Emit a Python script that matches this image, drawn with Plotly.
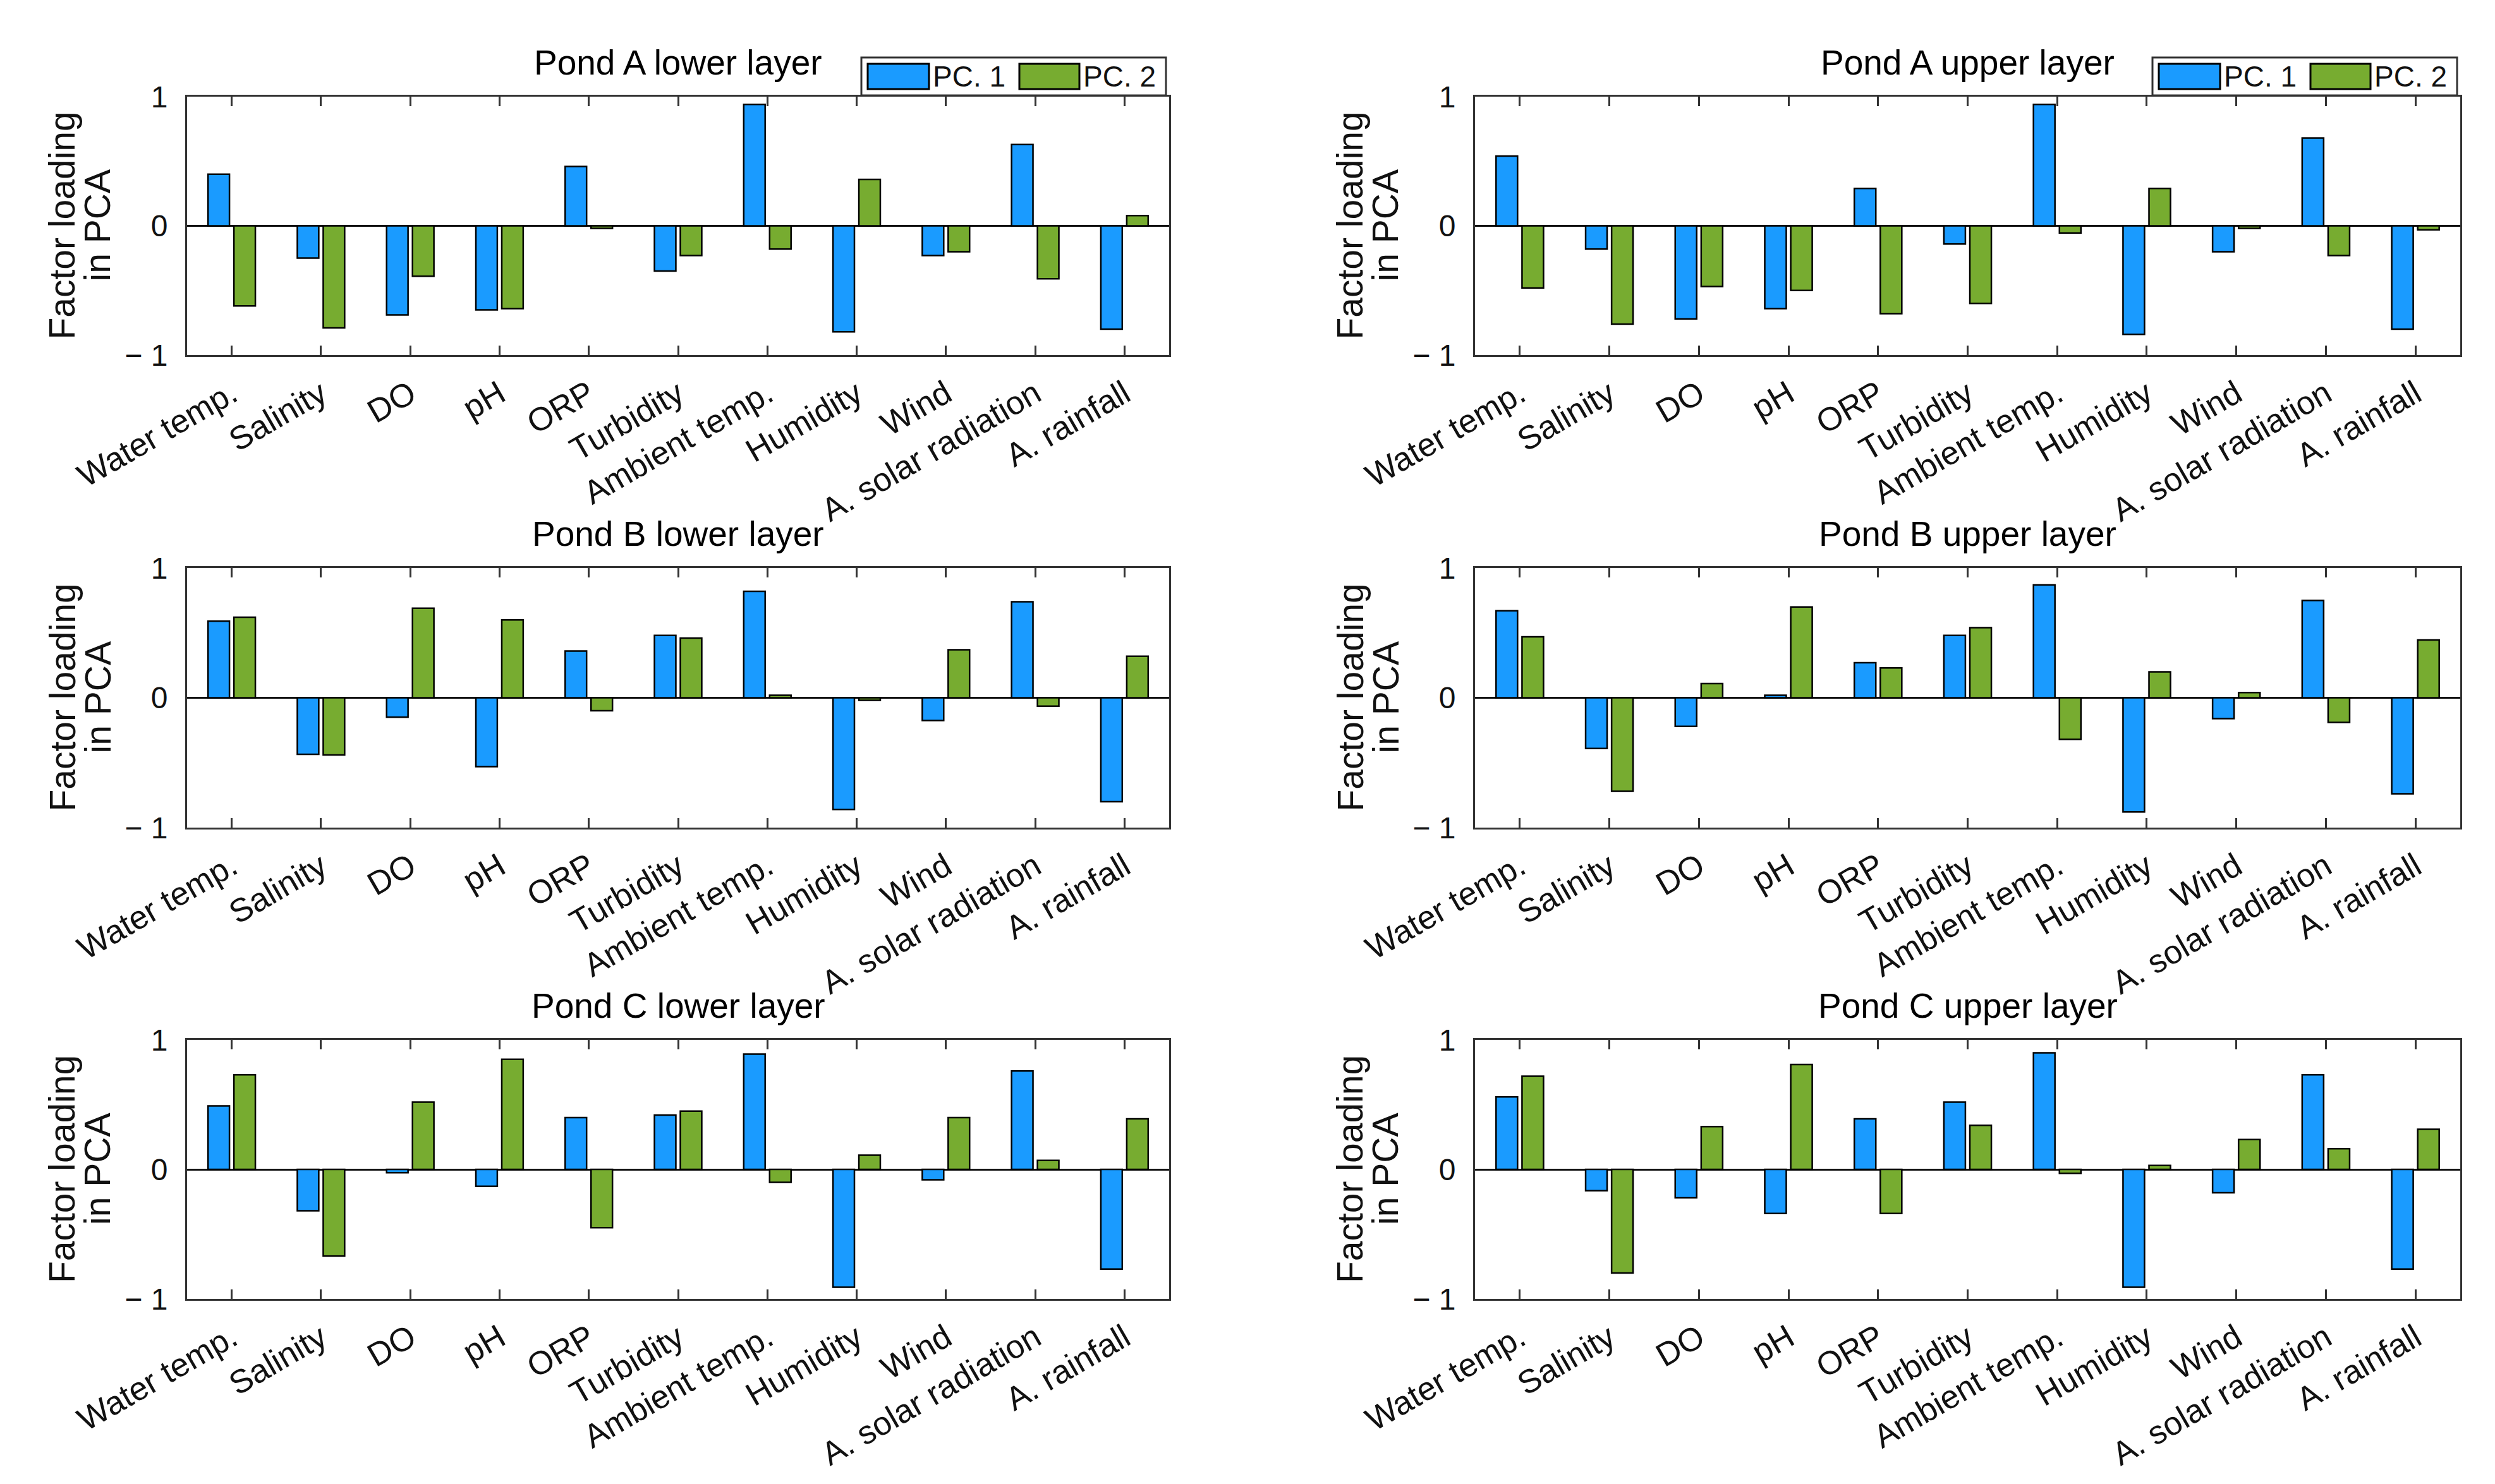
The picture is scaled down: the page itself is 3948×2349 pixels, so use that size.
import plotly.graph_objects as go

# ---------------- data ----------------
categories = ["Water temp.", "Salinity", "DO", "pH", "ORP", "Turbidity",
              "Ambient temp.", "Humidity", "Wind", "A. solar radiation", "A. rainfall"]

pondA_lower_pc1 = [0.40, -0.25, -0.69, -0.65, 0.46, -0.35, 0.94, -0.82, -0.23, 0.63, -0.80]
pondA_lower_pc2 = [-0.62, -0.79, -0.39, -0.64, -0.02, -0.23, -0.18, 0.36, -0.20, -0.41, 0.08]

pondA_upper_pc1 = [0.54, -0.18, -0.72, -0.64, 0.29, -0.14, 0.94, -0.84, -0.20, 0.68, -0.80]
pondA_upper_pc2 = [-0.48, -0.76, -0.47, -0.50, -0.68, -0.60, -0.055, 0.29, -0.02, -0.23, -0.03]

pondB_lower_pc1 = [0.59, -0.435, -0.15, -0.53, 0.36, 0.48, 0.82, -0.86, -0.175, 0.74, -0.80]
pondB_lower_pc2 = [0.62, -0.44, 0.69, 0.60, -0.10, 0.46, 0.02, -0.02, 0.37, -0.065, 0.32]

pondB_upper_pc1 = [0.67, -0.39, -0.22, 0.02, 0.27, 0.48, 0.87, -0.88, -0.16, 0.75, -0.74]
pondB_upper_pc2 = [0.47, -0.72, 0.11, 0.70, 0.23, 0.54, -0.32, 0.20, 0.04, -0.19, 0.445]

pondC_lower_pc1 = [0.49, -0.32, -0.025, -0.13, 0.40, 0.42, 0.89, -0.91, -0.08, 0.76, -0.77]
pondC_lower_pc2 = [0.73, -0.67, 0.52, 0.85, -0.45, 0.45, -0.10, 0.11, 0.40, 0.07, 0.39]

pondC_upper_pc1 = [0.56, -0.165, -0.22, -0.34, 0.39, 0.52, 0.90, -0.91, -0.18, 0.73, -0.77]
pondC_upper_pc2 = [0.72, -0.80, 0.33, 0.81, -0.34, 0.34, -0.03, 0.03, 0.23, 0.16, 0.31]

panel_titles = ["Pond A lower layer", "Pond A upper layer",
                "Pond B lower layer", "Pond B upper layer",
                "Pond C lower layer", "Pond C upper layer"]
series_names = ["PC. 1", "PC. 2"]
y_tick_vals = [-1, 0, 1]
y_tick_text = ["\u2212 1", "0", "1"]
y_title_lines = ["Factor loading", "in PCA"]

panels = [
    (pondA_lower_pc1, pondA_lower_pc2),
    (pondA_upper_pc1, pondA_upper_pc2),
    (pondB_lower_pc1, pondB_lower_pc2),
    (pondB_upper_pc1, pondB_upper_pc2),
    (pondC_lower_pc1, pondC_lower_pc2),
    (pondC_upper_pc1, pondC_upper_pc2),
]

# ---------------- style / layout ----------------
W, H = 3948, 2349
BLUE = "#1A9BFF"
GREEN = "#77AC30"
AXC = "#333333"
FONT = "Liberation Sans, Arial, sans-serif"

cols_px = [(288, 1842), (2326, 3885)]
rows_px = [(145, 554), (891, 1302), (1638, 2048)]


def fx(p):
    return p / W


def fy(p):
    return 1 - p / H


fig = go.Figure()
annotations = []
shapes = []

for i, (pc1, pc2) in enumerate(panels):
    r, c = divmod(i, 2)
    left, right = cols_px[c]
    top, bottom = rows_px[r]
    n = i + 1
    xa = "x" if n == 1 else f"x{n}"
    ya = "y" if n == 1 else f"y{n}"

    fig.add_trace(go.Bar(x=categories, y=pc1, name=series_names[0], xaxis=xa, yaxis=ya,
                         marker=dict(color=BLUE, line=dict(color="black", width=2.5)),
                         width=0.24, offset=-0.265, showlegend=False))
    fig.add_trace(go.Bar(x=categories, y=pc2, name=series_names[1], xaxis=xa, yaxis=ya,
                         marker=dict(color=GREEN, line=dict(color="black", width=2.5)),
                         width=0.24, offset=0.025, showlegend=False))

    xkey = "xaxis" if n == 1 else f"xaxis{n}"
    ykey = "yaxis" if n == 1 else f"yaxis{n}"
    fig.update_layout({
        xkey: dict(domain=[fx(left), fx(right)], anchor=ya, type="category",
                   range=[-0.5, len(categories) - 0.5], automargin=False,
                   showline=True, linecolor=AXC, linewidth=3, mirror="ticks",
                   ticks="inside", ticklen=15, tickwidth=3, tickcolor=AXC,
                   tickangle=-30, ticklabelstandoff=8,
                   tickfont=dict(family=FONT, size=52, color="#111111"),
                   showgrid=False, zeroline=False, fixedrange=True),
        ykey: dict(domain=[fy(bottom), fy(top)], anchor=xa, automargin=False,
                   range=[-1, 1], tickvals=y_tick_vals, ticktext=y_tick_text,
                   showline=True, linecolor=AXC, linewidth=3, mirror=True,
                   ticks="", ticklabelstandoff=18,
                   tickfont=dict(family=FONT, size=48, color="#111111"),
                   showgrid=False, zeroline=True, zerolinecolor="#111111",
                   zerolinewidth=3, fixedrange=True),
    })

    # panel title
    annotations.append(dict(text=panel_titles[i], x=fx((left + right) / 2), y=fy(top - 54),
                            xref="paper", yref="paper", xanchor="center", yanchor="middle",
                            showarrow=False, font=dict(family=FONT, size=55, color="black")))
    # y-axis title (two lines)
    cy = fy((top + bottom) / 2)
    annotations.append(dict(text=y_title_lines[0], x=fx(left - 198), y=cy,
                            xref="paper", yref="paper", xanchor="center", yanchor="middle",
                            textangle=-90, showarrow=False,
                            font=dict(family=FONT, size=57, color="#111111")))
    annotations.append(dict(text=y_title_lines[1], x=fx(left - 142), y=cy,
                            xref="paper", yref="paper", xanchor="center", yanchor="middle",
                            textangle=-90, showarrow=False,
                            font=dict(family=FONT, size=57, color="#111111")))

    # legend box on top row panels
    if r == 0:
        shapes.append(dict(type="rect", xref="paper", yref="paper",
                           x0=fx(right - 487), x1=fx(right - 5), y0=fy(top - 2), y1=fy(top - 62),
                           fillcolor="white", line=dict(color=AXC, width=3), layer="above"))
        shapes.append(dict(type="rect", xref="paper", yref="paper",
                           x0=fx(right - 477), x1=fx(right - 380), y0=fy(top - 12), y1=fy(top - 52),
                           fillcolor=BLUE, line=dict(color="black", width=3), layer="above"))
        shapes.append(dict(type="rect", xref="paper", yref="paper",
                           x0=fx(right - 237), x1=fx(right - 142), y0=fy(top - 12), y1=fy(top - 52),
                           fillcolor=GREEN, line=dict(color="black", width=3), layer="above"))
        annotations.append(dict(text=series_names[0], x=fx(right - 376), y=fy(top - 32),
                                xref="paper", yref="paper", xanchor="left", yanchor="middle",
                                showarrow=False, font=dict(family=FONT, size=46, color="#111111")))
        annotations.append(dict(text=series_names[1], x=fx(right - 138), y=fy(top - 32),
                                xref="paper", yref="paper", xanchor="left", yanchor="middle",
                                showarrow=False, font=dict(family=FONT, size=46, color="#111111")))

fig.update_layout(width=W, height=H, margin=dict(l=0, r=0, t=0, b=0, autoexpand=False),
                  template="none",
                  paper_bgcolor="white", plot_bgcolor="white",
                  barmode="overlay", showlegend=False,
                  annotations=annotations, shapes=shapes,
                  font=dict(family=FONT))

fig.write_html("out.html")
